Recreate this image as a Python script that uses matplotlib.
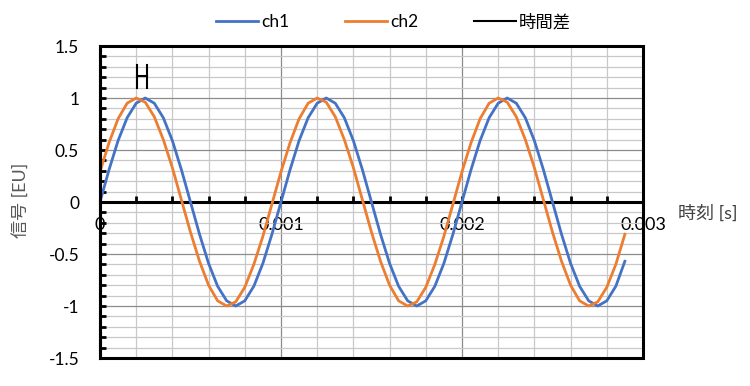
import numpy as np
import matplotlib
matplotlib.use('Agg')
import matplotlib.pyplot as plt
from matplotlib.ticker import FixedLocator, MultipleLocator
from matplotlib.patches import Rectangle

plt.rcParams['font.family'] = ['Lato', 'Noto Sans CJK JP', 'DejaVu Sans']  # 日本語は Noto にフォールバック
plt.rcParams['axes.unicode_minus'] = False

# 時刻 [us]
t_us = [0, 50, 100, 150, 200, 250, 300, 350, 400, 450,
        500, 550, 600, 650, 700, 750, 800, 850, 900, 950,
        1000, 1050, 1100, 1150, 1200, 1250, 1300, 1350, 1400, 1450,
        1500, 1550, 1600, 1650, 1700, 1750, 1800, 1850, 1900, 1950,
        2000, 2050, 2100, 2150, 2200, 2250, 2300, 2350, 2400, 2450,
        2500, 2550, 2600, 2650, 2700, 2750, 2800, 2850, 2900]

ch1 = [0, 0.31, 0.59, 0.81, 0.95, 1.00, 0.95, 0.81, 0.59, 0.31,
       0, -0.31, -0.59, -0.81, -0.95, -1.00, -0.95, -0.81, -0.59, -0.31,
       0, 0.31, 0.59, 0.81, 0.95, 1.00, 0.95, 0.81, 0.59, 0.31,
       0, -0.31, -0.59, -0.81, -0.95, -1.00, -0.95, -0.81, -0.59, -0.31,
       0, 0.31, 0.59, 0.81, 0.95, 1.00, 0.95, 0.81, 0.59, 0.31,
       0, -0.31, -0.59, -0.81, -0.95, -1.00, -0.95, -0.81, -0.57]

ch2 = [0.29, 0.57, 0.80, 0.95, 1.00, 0.96, 0.82, 0.60, 0.33, 0.02,
       -0.29, -0.57, -0.80, -0.95, -1.00, -0.96, -0.82, -0.60, -0.33, -0.02,
       0.29, 0.57, 0.80, 0.95, 1.00, 0.96, 0.82, 0.60, 0.33, 0.02,
       -0.29, -0.57, -0.80, -0.95, -1.00, -0.96, -0.82, -0.60, -0.33, -0.02,
       0.29, 0.57, 0.80, 0.95, 1.00, 0.96, 0.82, 0.60, 0.33, 0.02,
       -0.29, -0.57, -0.80, -0.95, -1.00, -0.96, -0.82, -0.60, -0.31]

# 時間差 (ch2 ピーク → ch1 ピーク)
dt_x = [0.000206, 0.000206, np.nan, 0.000206, 0.000258, np.nan, 0.000258, 0.000258]
dt_y = [1.10, 1.32, np.nan, 1.21, 1.21, np.nan, 1.10, 1.32]

x_ticks = [0, 0.001, 0.002, 0.003]
x_ticklabels = ['0', '0.001', '0.002', '0.003']
y_ticks = [-1.5, -1, -0.5, 0, 0.5, 1, 1.5]
y_ticklabels = ['-1.5', '-1', '-0.5', '0', '0.5', '1', '1.5']

t = np.array(t_us) / 1e6

fig = plt.figure(figsize=(7.5, 3.86), dpi=100)
ax = fig.add_axes([0.1333, 0.0725, 0.7240, 0.8083])

ax.plot(t, ch1, color='#4472C4', lw=2.0, label='ch1', zorder=3)
ax.plot(t, ch2, color='#ED7D31', lw=2.0, label='ch2', zorder=3)
ax.plot(dt_x, dt_y, color='black', lw=1.5, label='時間差', zorder=4)

ax.set_xlim(0, 0.003)
ax.set_ylim(-1.5, 1.5)

# 目盛り
ax.xaxis.set_major_locator(FixedLocator(x_ticks))
ax.xaxis.set_minor_locator(MultipleLocator(0.0002))
ax.yaxis.set_major_locator(FixedLocator(y_ticks))
ax.yaxis.set_minor_locator(MultipleLocator(0.1))
ax.set_xticklabels(x_ticklabels)
ax.set_yticklabels(y_ticklabels)

# グリッド
ax.grid(which='major', color='#8c8c8c', lw=0.9)
ax.grid(which='minor', color='#c8c8c8', lw=0.9)
ax.set_axisbelow(True)

# x軸は y=0 の位置
ax.spines['bottom'].set_position(('data', 0))
for s in ['top', 'right', 'left', 'bottom']:
    ax.spines[s].set_linewidth(2.2)
    ax.spines[s].set_color('black')
ax.spines['top'].set_visible(False)
ax.spines['right'].set_visible(False)
ax.add_patch(Rectangle((0, 0), 1, 1, transform=ax.transAxes, fill=False,
                       lw=2.2, ec='black', clip_on=False, zorder=5))

ax.tick_params(axis='x', which='both', direction='in', length=4, width=2,
               labelsize=13, pad=11, top=False)
ax.tick_params(axis='y', which='both', direction='in', length=4, width=2,
               labelsize=12.5, pad=15, right=False)

# 軸ラベル
fig.text(0.944, 0.448, '時刻 [s]', fontsize=13, color='#404040', ha='center', va='center')
fig.text(0.029, 0.482, '信号 [EU]', fontsize=13, color='#595959', ha='center', va='center',
         rotation=90)

fig.legend(loc='center', bbox_to_anchor=(0.525, 0.943), ncol=3, frameon=False,
           fontsize=12.5, handlelength=2.4, columnspacing=3.2, handletextpad=0.2)

fig.savefig('out.png', dpi=100)
